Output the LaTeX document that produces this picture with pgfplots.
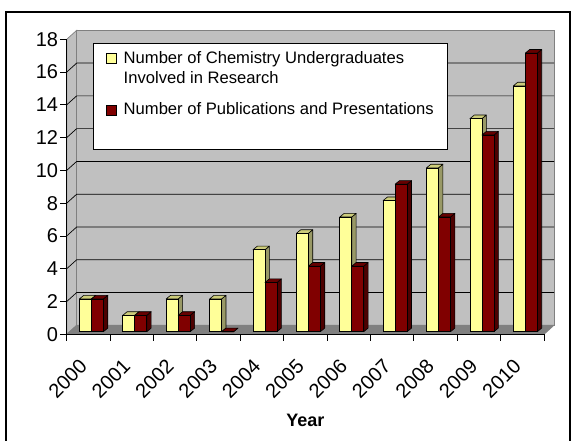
\documentclass[border=0pt]{standalone}
\usepackage{pgfplots}
\pgfplotsset{compat=1.18}
\usepackage{fontspec}
\setmainfont{Liberation Sans}
\definecolor{yfront}{HTML}{FFFF99}
\definecolor{ytop}{HTML}{CCCC7A}
\definecolor{yside}{HTML}{999966}
\definecolor{rfront}{HTML}{800000}
\definecolor{rtop}{HTML}{660000}
\definecolor{rside}{HTML}{4D0000}
\definecolor{wall}{HTML}{C0C0C0}
\definecolor{floorc}{HTML}{808080}
\pgfdeclareplotmark{nothing}{}
\newcommand\threedbar[4]{%
  \pgfmathsetmacro\H{\h*16.3889}%
  \pgfmathsetmacro\B{2.6-\H}%
  \pgfmathsetmacro\L{#1}%
  \pgfmathsetmacro\R{#1+12}%
  \pgfmathsetmacro\RR{#1+16.4}%
  \pgfmathsetmacro\LL{#1+4.4}%
  \pgfmathsetmacro\BB{\B+3.6}%
  \filldraw[fill=#4,draw=black,line width=0.6pt,line join=round] (\R pt,\B pt) -- (\RR pt,\BB pt) -- (\RR pt,6.2pt) -- (\R pt,2.6pt) -- cycle;
  \filldraw[fill=#3,draw=black,line width=0.6pt,line join=round] (\L pt,2.6pt) -- (\LL pt,6.2pt) -- (\RR pt,6.2pt) -- (\R pt,2.6pt) -- cycle;
  \filldraw[fill=#2,draw=black,line width=0.6pt] (\L pt,\B pt) rectangle (\R pt,2.6pt);
}
\begin{document}
\begin{tikzpicture}
\useasboundingbox (0,0) rectangle (574pt,440pt);
\fill[white] (0,0) rectangle (574pt,440pt);
% 3D frame: side wall, back wall, floor
\filldraw[fill=wall,draw=floorc,line width=0.7pt] (66.7pt,105.7pt) -- (76.7pt,114.7pt) -- (76.7pt,409.7pt) -- (66.7pt,400.7pt) -- cycle;
\filldraw[fill=wall,draw=floorc,line width=0.7pt] (76.7pt,114.7pt) rectangle (554pt,409.7pt);
\filldraw[fill=floorc,draw=floorc,line width=0.7pt] (66.7pt,105.7pt) -- (544pt,105.7pt) -- (554pt,114.7pt) -- (76.7pt,114.7pt) -- cycle;
\foreach \v in {2,4,...,16} {
  \draw[black,line width=0.7pt] (66.7pt,105.7pt+\v*16.3889pt) -- ++(10pt,9pt) -- (554pt,114.7pt+\v*16.3889pt);
}
\foreach \v in {0,2,...,18} {
  \draw[black,line width=0.8pt] (60pt,105.7pt+\v*16.3889pt) -- (66.7pt,105.7pt+\v*16.3889pt);
}
\draw[black,line width=0.8pt] (66.7pt,105.7pt) -- (66.7pt,400.7pt);
\draw[black,line width=0.8pt] (66.7pt,105.7pt) -- (544pt,105.7pt);
\foreach \k in {0,...,11} {
  \draw[black,line width=0.8pt] (66.7pt+\k*43.3909pt,105.7pt) -- ++(0,-6.7pt);
}
% outer frame
\draw[black,line width=2pt] (6pt,-5pt) -- (6pt,428pt) -- (570pt,428pt) -- (570pt,-5pt);
\begin{axis}[
  at={(66.7pt,105.7pt)}, anchor=south west,
  scale only axis, width=477.3pt, height=295pt,
  xmin=-0.5, xmax=10.5, ymin=0, ymax=18,
  axis line style={draw=none}, tick style={draw=none},
  xtick={0,1,2,3,4,5,6,7,8,9,10},
  xticklabels={2000,2001,2002,2003,2004,2005,2006,2007,2008,2009,2010},
  ytick={0,2,4,6,8,10,12,14,16,18},
  /pgf/number format/assume math mode=true,
  ticklabel style={font=\fontsize{20}{24}\selectfont},
  yticklabel style={anchor=east, inner sep=0pt, xshift=-8.5pt},
  xticklabel style={inner sep=0pt, xshift=-4.9pt, yshift=-28.7pt, rotate=45, anchor=east},
  xlabel={Year},
  every axis x label/.style={at={(axis description cs:0.5,0)}, anchor=center, yshift=-86.4pt, font=\fontsize{18}{22}\selectfont\bfseries},
  clip=false,
  legend cell align=left,
  legend style={at={(axis description cs:0.0545,0.9864)}, anchor=north west,
    draw=black, line width=0.8pt, fill=white,
    inner xsep=13.3pt, inner ysep=8pt, row sep=16.8pt, column sep=6.7pt,
    font=\fontsize{16.6}{20}\selectfont,
    nodes={inner sep=0pt, align=left}},
]
\addplot[scatter, only marks, mark=nothing,
  visualization depends on={\thisrow{y} \as \h},
  scatter/@pre marker code/.code={\threedbar{-9}{yfront}{ytop}{yside}},
  scatter/@post marker code/.code={},
  legend image code/.code={\filldraw[fill=yfront,draw=black,line width=0.6pt] (0pt,4.7pt) rectangle (10pt,14.7pt);}]
  table[row sep=\\]{x y\\ 0 2\\ 1 1\\ 2 2\\ 3 2\\ 4 5\\ 5 6\\ 6 7\\ 7 8\\ 8 10\\ 9 13\\ 10 15\\};
\addlegendentry{Number of Chemistry Undergraduates\\Involved in Research}
\addplot[scatter, only marks, mark=nothing,
  visualization depends on={\thisrow{y} \as \h},
  scatter/@pre marker code/.code={\threedbar{3}{rfront}{rtop}{rside}},
  scatter/@post marker code/.code={},
  legend image code/.code={\filldraw[fill=rfront,draw=black,line width=0.6pt] (0pt,-6.8pt) rectangle (10pt,3.2pt);}]
  table[row sep=\\]{x y\\ 0 2\\ 1 1\\ 2 1\\ 3 0\\ 4 3\\ 5 4\\ 6 4\\ 7 9\\ 8 7\\ 9 12\\ 10 17\\};
\addlegendentry{Number of Publications and Presentations}
\addlegendimage{empty legend}
\addlegendentry{\rule{0pt}{7pt}}
\end{axis}
\end{tikzpicture}
\end{document}
